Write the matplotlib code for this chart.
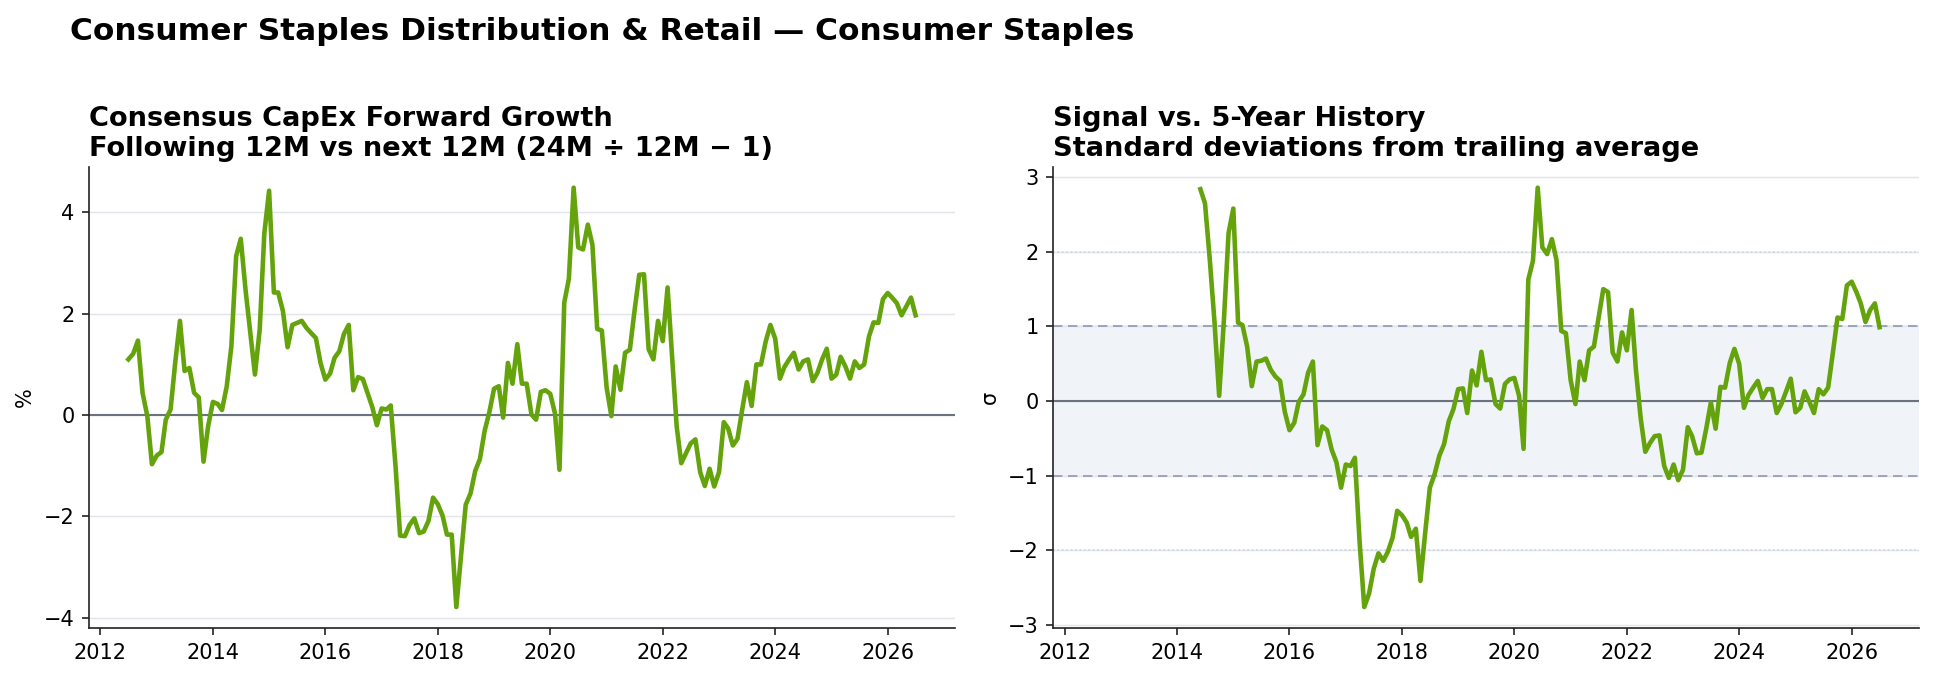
import numpy as np
import pandas as pd
import matplotlib
matplotlib.use("Agg")
import matplotlib.pyplot as plt
import matplotlib.dates as mdates

# ── data (monthly, Jul 2012 → Jul 2026) ──────────────────────────────────────
START = "2012-07-01"

capex_growth = [
    1.10, 1.21, 1.47, 0.44, -0.02, -0.97, -0.80, -0.73, -0.09, 0.11,
    1.03, 1.86, 0.87, 0.93, 0.44, 0.35, -0.92, -0.22, 0.26, 0.22,
    0.10, 0.57, 1.36, 3.14, 3.48, 2.47, 1.62, 0.80, 1.69, 3.59,
    4.43, 2.42, 2.42, 2.05, 1.34, 1.78, 1.82, 1.86, 1.72, 1.62,
    1.52, 1.03, 0.70, 0.82, 1.13, 1.26, 1.60, 1.78, 0.49, 0.75,
    0.71, 0.44, 0.16, -0.20, 0.13, 0.11, 0.19, -1.00, -2.38, -2.39,
    -2.17, -2.04, -2.33, -2.30, -2.09, -1.63, -1.76, -1.99, -2.36, -2.36,
    -3.79, -2.77, -1.77, -1.55, -1.10, -0.87, -0.31, 0.05, 0.52, 0.57,
    -0.05, 1.03, 0.62, 1.40, 0.62, 0.62, 0.01, -0.09, 0.46, 0.49,
    0.42, 0.03, -1.08, 2.22, 2.69, 4.49, 3.31, 3.27, 3.76, 3.36,
    1.70, 1.67, 0.55, -0.02, 0.96, 0.50, 1.23, 1.29, 2.05, 2.77,
    2.78, 1.30, 1.10, 1.86, 1.46, 2.52, 1.23, -0.22, -0.95, -0.75,
    -0.56, -0.48, -1.13, -1.40, -1.06, -1.41, -1.13, -0.14, -0.26, -0.60,
    -0.47, 0.11, 0.65, 0.18, 1.00, 1.00, 1.46, 1.78, 1.51, 0.72,
    0.95, 1.10, 1.23, 0.90, 1.06, 1.10, 0.67, 0.83, 1.10, 1.31,
    0.72, 0.80, 1.15, 0.96, 0.72, 1.06, 0.93, 1.00, 1.55, 1.83,
    1.82, 2.29, 2.41, 2.31, 2.21, 1.97, 2.14, 2.32, 1.97,
]

# z-score vs trailing 5y history (first 23 months have no value)
zscore = [np.nan] * 23 + [
    2.84, 2.65, 1.90, 1.05, 0.07, 1.09, 2.25, 2.58, 1.05, 1.02,
    0.73, 0.20, 0.53, 0.54, 0.57, 0.42, 0.33, 0.27, -0.14, -0.39,
    -0.29, -0.01, 0.09, 0.38, 0.53, -0.59, -0.34, -0.39, -0.65, -0.82,
    -1.16, -0.85, -0.87, -0.76, -1.90, -2.76, -2.58, -2.25, -2.04, -2.14,
    -2.02, -1.83, -1.47, -1.53, -1.63, -1.82, -1.71, -2.41, -1.76, -1.16,
    -0.98, -0.73, -0.58, -0.27, -0.11, 0.16, 0.17, -0.16, 0.41, 0.21,
    0.66, 0.28, 0.29, -0.04, -0.10, 0.23, 0.29, 0.31, 0.07, -0.64,
    1.63, 1.88, 2.86, 2.06, 1.97, 2.17, 1.89, 0.94, 0.91, 0.28,
    -0.04, 0.53, 0.28, 0.68, 0.73, 1.11, 1.50, 1.46, 0.65, 0.53,
    0.92, 0.68, 1.22, 0.42, -0.23, -0.68, -0.56, -0.47, -0.46, -0.87,
    -1.03, -0.85, -1.06, -0.92, -0.35, -0.47, -0.70, -0.69, -0.37, -0.02,
    -0.37, 0.19, 0.18, 0.51, 0.70, 0.50, -0.09, 0.08, 0.18, 0.27,
    0.04, 0.16, 0.16, -0.16, -0.04, 0.13, 0.30, -0.15, -0.09, 0.13,
    -0.01, -0.16, 0.16, 0.09, 0.18, 0.65, 1.12, 1.10, 1.55, 1.60,
    1.46, 1.31, 1.06, 1.22, 1.31, 0.99,
]

dates = pd.date_range(START, periods=len(capex_growth), freq="MS")

GREEN = "#65a30d"
ZERO = "#6b7280"
GRID = "#e2e5ea"

fig = plt.figure(figsize=(1934 / 150, 679 / 150), dpi=150)
ax1 = fig.add_axes([0.046, 0.0751, 0.4478, 0.6794])
ax2 = fig.add_axes([0.5446, 0.0751, 0.4476, 0.6794], sharex=ax1)

for ax in (ax1, ax2):
    ax.spines["top"].set_visible(False)
    ax.spines["right"].set_visible(False)
    ax.spines["left"].set_color("#222222")
    ax.spines["bottom"].set_color("#222222")
    ax.grid(axis="y", color=GRID, lw=0.7)
    ax.set_axisbelow(True)
    ax.tick_params(labelsize=10, color="#222222")
    ax.tick_params(axis="x", labelbottom=True)

ax1.xaxis.set_major_locator(mdates.YearLocator(2))
ax1.xaxis.set_major_formatter(mdates.DateFormatter("%Y"))

# left: raw growth
ax1.axhline(0, color=ZERO, lw=1, zorder=1)
ax1.plot(dates, capex_growth, color=GREEN, lw=2.2, zorder=3)
ax1.set_ylabel("%", fontsize=10)
ax1.set_title("Consensus CapEx Forward Growth\nFollowing 12M vs next 12M (24M ÷ 12M − 1)",
              loc="left", fontsize=13.1, fontweight="bold", pad=5)

# right: z-score with ±1σ band
ax2.axhspan(-1, 1, color="#f0f4f8", zorder=0)
for lvl in (-1, 1):
    ax2.axhline(lvl, color="#94a3b8", lw=0.9, ls=(0, (5, 3)), zorder=1)
for lvl in (-2, 2):
    ax2.axhline(lvl, color="#cbd5e1", lw=0.8, ls=":", zorder=1)
ax2.axhline(0, color=ZERO, lw=1, zorder=1)
ax2.plot(dates, zscore, color=GREEN, lw=2.2, zorder=3)
ax2.set_ylabel("σ", fontsize=10)
ax2.set_title("Signal vs. 5-Year History\nStandard deviations from trailing average",
              loc="left", fontsize=13.1, fontweight="bold", pad=5)

ax1.set_xlim(dates[0] - pd.Timedelta(days=256), dates[-1] + pd.Timedelta(days=256))

fig.suptitle("Consumer Staples Distribution & Retail — Consumer Staples",
             x=0.036, y=0.975, ha="left", fontsize=15.0, fontweight="bold")

fig.savefig("out.png", dpi=150)
